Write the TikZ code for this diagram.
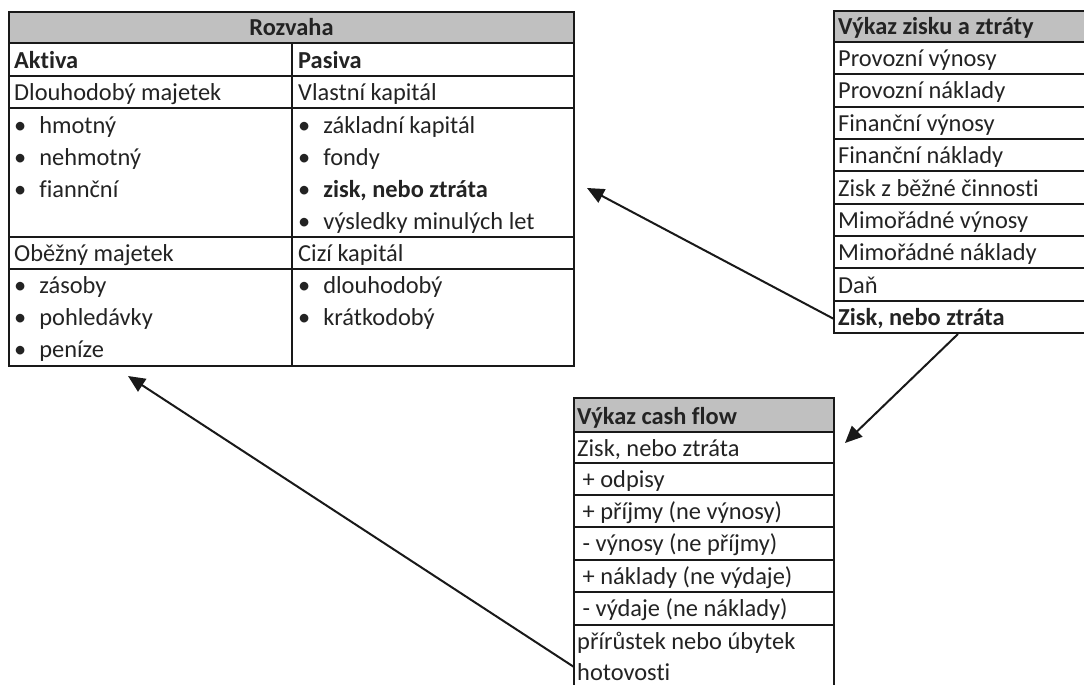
\documentclass[tikz,border=0pt]{standalone}
\usepackage{fontspec}
\setmainfont[Ligatures=NoCommon]{Carlito}
\usetikzlibrary{arrows.meta}
\definecolor{hdr}{RGB}{192,192,192}
\definecolor{ln}{RGB}{25,25,25}
\definecolor{tx}{RGB}{35,35,35}
\newcommand{\bulx}{•\hspace{13pt}}
\begin{document}
\begin{tikzpicture}[x=1pt,y=-1pt,
  txt/.style={anchor=base west, inner sep=0pt, font=\fontsize{24.4}{28}\selectfont, text=tx},
  htxt/.style={txt, font=\fontsize{24.4}{28}\selectfont\bfseries},
  grid/.style={line width=2pt, draw=ln},
  frame/.style={line width=2.2pt, draw=ln},
  arr/.style={line width=2pt, draw=ln, -{Triangle[length=17pt,width=15pt]}}]
\useasboundingbox[fill=white] (0,0) rectangle (1084,685);

% ---------------- Rozvaha ----------------
\fill[hdr] (9,12) rectangle (574,43);
\foreach \y in {43,76,108,237,269} \draw[grid] (9,\y) -- (574,\y);
\draw[grid] (292,43) -- (292,366);
\draw[frame] (9,12) rectangle (574,366);
\node[htxt, anchor=base] (rozvaha) at (291.5,36) {Rozvaha};
\node[htxt] (aktiva) at (14,68.5) {Aktiva};
\node[htxt] (pasiva) at (298,68.5) {Pasiva};
\node[txt] (dm) at (14,100.5) {Dlouhodobý majetek};
\node[txt] (vk) at (298,100.5) {Vlastní kapitál};
\node[txt] (a1) at (14,133) {\bulx hmotný};
\node[txt] (a2) at (14,165) {\bulx nehmotný};
\node[txt] (a3) at (14,197) {\bulx fiannční};
\node[txt] (p1) at (298,133) {\bulx základní kapitál};
\node[txt] (p2) at (298,165) {\bulx fondy};
\node[txt] (p3) at (298,197) {\bulx \textbf{zisk, nebo ztráta}};
\node[txt] (p4) at (298,229) {\bulx výsledky minulých let};
\node[txt] (om) at (14,261) {Oběžný majetek};
\node[txt] (ck) at (298,261) {Cizí kapitál};
\node[txt] (a4) at (14,293.5) {\bulx zásoby};
\node[txt] (a5) at (14,325.5) {\bulx pohledávky};
\node[txt] (a6) at (14,357.5) {\bulx peníze};
\node[txt] (p5) at (298,293.5) {\bulx dlouhodobý};
\node[txt] (p6) at (298,325.5) {\bulx krátkodobý};

% ---------------- Vykaz zisku a ztraty ----------------
\fill[hdr] (834,11) rectangle (1100,42);
\foreach \y in {42,74.3,106.7,139,171.3,203.7,236,268.3,300.7} \draw[grid] (834,\y) -- (1100,\y);
\draw[frame] (1100,11) -- (834,11) -- (834,333) -- (1100,333);
\node[htxt] (vzz) at (838,35) {Výkaz zisku a ztráty};
\node[txt] (z1) at (838,66.5) {Provozní výnosy};
\node[txt] (z2) at (838,99) {Provozní náklady};
\node[txt] (z3) at (838,131) {Finanční výnosy};
\node[txt] (z4) at (838,163.5) {Finanční náklady};
\node[txt] (z5) at (838,196) {Zisk z běžné činnosti};
\node[txt] (z6) at (838,228) {Mimořádné výnosy};
\node[txt] (z7) at (838,260.5) {Mimořádné náklady};
\node[txt] (z8) at (838,293) {Daň};
\node[htxt] (z9) at (838,325) {Zisk, nebo ztráta};

% ---------------- Vykaz cash flow ----------------
\fill[hdr] (574,398) rectangle (834,432);
\foreach \y in {432,463,495,527,560,592,625} \draw[grid] (574,\y) -- (834,\y);
\draw[frame] (574,700) -- (574,398) -- (834,398) -- (834,700);
\node[htxt] (vcf) at (577,424) {Výkaz cash flow};
\node[txt] (c1) at (577,456) {Zisk, nebo ztráta};
\node[txt] (c2) at (577,487.5) {\ + odpisy};
\node[txt] (c3) at (577,519.5) {\ + příjmy (ne výnosy)};
\node[txt] (c4) at (577,551.5) {\ - výnosy (ne příjmy)};
\node[txt] (c5) at (577,584) {\ + náklady (ne výdaje)};
\node[txt] (c6) at (577,616) {\ - výdaje (ne náklady)};
\node[txt] (c7) at (577,649) {přírůstek nebo úbytek};
\node[txt] (c8) at (577,680) {hotovosti};

% ---------------- connectors ----------------
\coordinate (s1) at (834,319);
\coordinate (t1) at (587,188);
\coordinate (s2) at (958,334);
\coordinate (t2) at (845,443);
\coordinate (s3) at (574,667);
\coordinate (t3) at (128,376);
\draw[arr] (s1) -- (t1);
\draw[arr] (s2) -- (t2);
\draw[arr] (s3) -- (t3);
\end{tikzpicture}
\end{document}
